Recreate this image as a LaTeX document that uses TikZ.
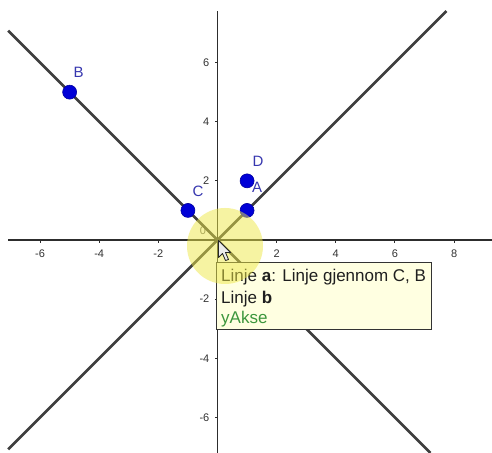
\documentclass[tikz,border=0pt]{standalone}
\usepackage{fontspec}
\setmainfont{Liberation Sans}
\definecolor{ptblue}{RGB}{0,0,215}
\definecolor{lblblue}{RGB}{55,55,175}
\definecolor{tipyellow}{RGB}{255,255,225}
\definecolor{tipgreen}{RGB}{60,150,60}
\definecolor{halo}{RGB}{238,232,70}
\definecolor{lineg}{RGB}{62,62,62}
\definecolor{axisg}{RGB}{45,45,45}
\begin{document}
\begin{tikzpicture}[x=1pt,y=1pt,
  axisline/.style={draw=axisg, line width=1.4pt},
  tickmark/.style={draw=axisg, line width=1pt},
  gline/.style={draw=lineg, line width=2.8pt},
  ptdot/.style={circle, fill=ptblue, draw=ptblue!75!black, line width=0.6pt, minimum size=14pt, inner sep=0pt},
  ptlabel/.style={text=lblblue, font=\fontsize{15}{17}\selectfont, inner sep=0pt},
  ticklabel/.style={text=black!80, font=\fontsize{11}{13}\selectfont, inner sep=0pt},
  tipbox/.style={draw=black!80, fill=tipyellow, line width=1.1pt, inner sep=0pt},
  tiptext/.style={font=\fontsize{17}{20}\selectfont, text=black!88, inner sep=0pt, anchor=base west}
]
\useasboundingbox (0,0) rectangle (492,452);
\fill[white] (0,0) rectangle (492,452);
\begin{scope}[shift={(217.5,212)}, x=29.57pt, y=29.57pt]
  \coordinate (aS) at (-7.08,7.08);
  \coordinate (aE) at (7.2,-7.2);
  \coordinate (bS) at (-7.08,-7.08);
  \coordinate (bE) at (7.74,7.74);
  \coordinate (xL) at (-7.08,0);
  \coordinate (xR) at (9.35,0);
  \coordinate (yB) at (0,-7.2);
  \coordinate (yT) at (0,7.74);
  \coordinate (O) at (0,0);
  % axes
  \draw[axisline] (xL) -- (xR);
  \draw[axisline] (yB) -- (yT);
  \foreach \t [count=\i] in {-6,-4,-2,2,4,6,8} {
    \draw[tickmark] (\t,0) -- ++(0,-3pt);
    \node[ticklabel, yshift=-14pt] (xt\i) at (\t,0) {\t};
  }
  \foreach \t [count=\i] in {-6,-4,-2,2,4,6} {
    \draw[tickmark] (0,\t) -- ++(-3pt,0);
    \node[ticklabel, anchor=east, xshift=-8pt] (yt\i) at (0,\t) {\t};
  }
  \node[ticklabel, text=black!60] (olabel) at (-0.49,0.3) {0};
  % lines
  \draw[gline] (aS) -- (aE);
  \draw[gline] (bS) -- (bE);
  % points
  \node[ptdot] (B) at (-5,5) {};
  \node[ptdot] (C) at (-1,1) {};
  \node[ptdot] (A) at (1,1) {};
  \node[ptdot] (D) at (1,2) {};
\end{scope}
\node[ptlabel] (Bl) at ([shift={(9pt,20pt)}]B.center) {B};
\node[ptlabel] (Cl) at ([shift={(10pt,19pt)}]C.center) {C};
\node[ptlabel] (Dl) at ([shift={(11pt,20pt)}]D.center) {D};
\node[ptlabel] (Al) at ([shift={(10pt,23pt)}]A.center) {A};
% tooltip
\node[tipbox, minimum width=215pt, minimum height=67pt, anchor=north west] (tt) at (216,190) {};
\node[tiptext] (t1) at (221,170.3) {Linje \textbf{a}: Linje gjennom C, B};
\node[tiptext] (t2) at (221,148) {Linje \textbf{b}};
\node[tiptext, text=tipgreen] (t3) at (221,128) {yAkse};
% highlight halo
\fill[halo, opacity=0.5] (225,206) circle (38pt);
% mouse cursor
\draw[fill=white!92!black, draw=black!85, line width=0.8pt, line join=round, shift={(218.5,211.5)}]
  (0,0) -- (0,-17) -- (4,-13) -- (7,-20) -- (10,-19) -- (7,-12) -- (12,-12) -- cycle;
\end{tikzpicture}
\end{document}
